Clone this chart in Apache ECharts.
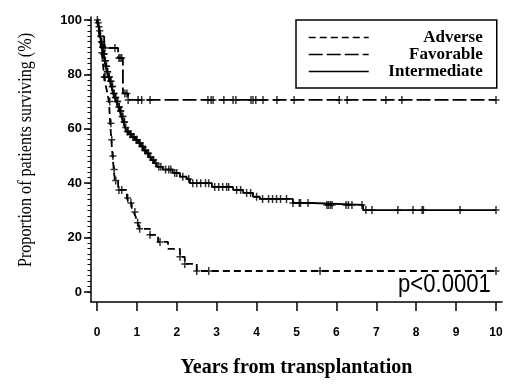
<!DOCTYPE html>
<html>
<head>
<meta charset="utf-8">
<script src="https://cdn.jsdelivr.net/npm/echarts@6/dist/echarts.min.js"></script>
<style>
	html,body{margin:0;padding:0;background:#fff;}
	#chart{width:520px;height:384px;}
</style>
</head>
<body>
<div id="chart"></div>
<script>
// Kaplan-Meier steps (years, % surviving)
var adverseTime = [0, 0.03, 0.06, 0.09, 0.12, 0.15, 0.18, 0.22, 0.26, 0.3, 0.33, 0.36, 0.39, 0.42, 0.45, 0.53, 0.75, 0.8, 0.87, 0.92, 0.97, 1.02, 1.07, 1.33, 1.53, 1.78, 2.08, 2.2, 2.5, 10];
var adverseSurv = [100, 97, 94, 91, 88, 84, 79, 76, 73, 70, 62, 56, 50, 45, 41, 37.5, 34.5, 32.7, 30.9, 29.4, 27.6, 25.4, 23.2, 21, 18.4, 15.8, 12.9, 10.3, 7.7, 7.7];
var adverseCensor = [0.12, 0.18, 0.2, 0.32, 0.35, 0.37, 0.4, 0.43, 0.47, 0.55, 0.62, 0.77, 0.85, 0.95, 1.02, 1.07, 1.33, 1.58, 2.08, 2.2, 2.5, 2.8, 5.59, 10];

var favorableTime = [0, 0.05, 0.1, 0.18, 0.53, 0.65, 0.78, 10];
var favorableSurv = [100, 97, 94, 89.7, 86, 73, 70.6, 70.6];
var favorableCensor = [0.2, 0.45, 0.55, 0.58, 0.62, 0.7, 0.75, 0.78, 1.03, 1.12, 1.33, 2.78, 2.86, 2.91, 3.18, 3.41, 3.48, 3.86, 3.91, 3.98, 4.16, 4.51, 4.94, 6.07, 6.27, 7.24, 7.64, 10];

var intermediateTime = [0, 0.02, 0.04, 0.06, 0.08, 0.1, 0.13, 0.16, 0.19, 0.22, 0.25, 0.28, 0.32, 0.36, 0.4, 0.44, 0.48, 0.53, 0.57, 0.61, 0.66, 0.7, 0.74, 0.8, 0.87, 0.95, 1.03, 1.1, 1.17, 1.23, 1.3, 1.37, 1.43, 1.5, 1.65, 1.9, 2.08, 2.25, 2.33, 2.88, 3.41, 3.66, 3.91, 4.08, 4.91, 5.39, 6.67, 10];
var intermediateSurv = [100, 99, 97.5, 96, 94, 92, 90, 87.5, 85, 83, 81, 79, 77.5, 75.5, 73, 71.5, 70, 68, 66.5, 64.5, 62.5, 60.5, 59, 58, 57, 56, 54.8, 53.5, 52, 51, 49.5, 48.5, 47.4, 46, 45, 43.7, 42.4, 41.5, 40, 38.6, 37.5, 36.4, 35, 34.2, 32.7, 32, 30.1, 30.1];
var intermediateCensor = [0.01, 0.03, 0.05, 0.07, 0.09, 0.11, 0.12, 0.14, 0.15, 0.17, 0.18, 0.2, 0.21, 0.23, 0.24, 0.26, 0.27, 0.3, 0.31, 0.34, 0.35, 0.38, 0.39, 0.42, 0.43, 0.46, 0.47, 0.5, 0.52, 0.55, 0.56, 0.59, 0.6, 0.63, 0.65, 0.68, 0.69, 0.72, 0.76, 0.78, 0.83, 0.85, 0.9, 0.93, 0.98, 1.0, 1.06, 1.08, 1.13, 1.15, 1.2, 1.22, 1.27, 1.29, 1.34, 1.4, 1.42, 1.47, 1.55, 1.6, 1.72, 1.8, 1.85, 1.95, 2.0, 2.15, 2.3, 2.4, 2.5, 2.6, 2.72, 2.8, 2.95, 3.05, 3.15, 3.25, 3.3, 3.5, 3.6, 3.75, 3.85, 4.0, 4.15, 4.3, 4.4, 4.5, 4.6, 4.75, 4.91, 5.07, 5.1, 5.29, 5.76, 5.8, 5.85, 5.89, 6.24, 6.3, 6.39, 6.64, 6.74, 6.89, 7.54, 7.92, 8.15, 8.18, 9.1, 10];

var xTicks = [0, 1, 2, 3, 4, 5, 6, 7, 8, 9, 10];
var yTicks = [0, 20, 40, 60, 80, 100];
var yMinorTicks = [0, 2, 4, 6, 8, 10, 12, 14, 16, 18, 20, 22, 24, 26, 28, 30, 32, 34, 36, 38, 40, 42, 44, 46, 48, 50, 52, 54, 56, 58, 60, 62, 64, 66, 68, 70, 72, 74, 76, 78, 80, 82, 84, 86, 88, 90, 92, 94, 96, 98, 100];

// "+" censoring mark
var plusPath = 'path://M2.75,0h1.5v8h-1.5zM0,3.25h7v1.5h-7z';

function pairs(times, vals){
	return times.map(function(t, i){ return [t, vals[i]]; });
}
// survival value at a censor time (last step at or before t)
function censorPoints(times, vals, cens){
	return cens.map(function(c){
		var v = vals[0];
		for(var i = 0; i < times.length; i++){
			if(times[i] <= c) v = vals[i];
		}
		return [c, v];
	});
}
function stepSeries(name, times, vals, dash){
	return {
		name: name,
		type: 'line',
		step: 'end',
		symbol: 'none',
		data: pairs(times, vals),
		lineStyle: { color: '#000', width: 1.8, type: dash },
		itemStyle: { color: '#000' },
		z: 3
	};
}
function censorSeries(times, vals, cens){
	return {
		type: 'scatter',
		symbol: plusPath,
		symbolSize: [7, 8],
		itemStyle: { color: '#000' },
		data: censorPoints(times, vals, cens),
		silent: true,
		z: 4
	};
}

function draw(){
	var myChart = echarts.init(document.getElementById('chart'));
	var serif = '"Liberation Serif", "DejaVu Serif", serif';
	var sans = '"Liberation Sans", Arial, sans-serif';
	myChart.setOption({
		animation: false,
		backgroundColor: '#fff',
		grid: { left: 91, top: 17, right: 18, bottom: 82, outerBoundsMode: 'none' },
		legend: {
			data: ['Adverse', 'Favorable', 'Intermediate'],
			orient: 'vertical',
			left: 296,
			top: 20,
			padding: [9, 14, 8, 12],
			itemWidth: 60,
			itemHeight: 10,
			itemGap: 0,
			borderColor: '#000',
			borderWidth: 1.5,
			itemStyle: { color: 'rgba(0,0,0,0)', borderWidth: 0, opacity: 0 },
			lineStyle: { width: 1.5 },
			formatter: function(name){ return '{a|' + name + '}'; },
			textStyle: {
				rich: {
					a: { width: 109, height: 16, lineHeight: 16, align: 'right', fontFamily: serif, fontWeight: 'bold', fontSize: 17, color: '#000' }
				}
			}
		},
		xAxis: {
			type: 'value',
			min: -0.15,
			max: 10.15,
			splitLine: { show: false },
			axisLine: { onZero: false, lineStyle: { color: '#000', width: 1.5 } },
			axisTick: { customValues: xTicks, length: 9, lineStyle: { color: '#000', width: 1.5 } },
			axisLabel: { customValues: xTicks, margin: 25, color: '#000', fontFamily: sans, fontWeight: 'bold', fontSize: 12 },
			name: 'Years from transplantation',
			nameLocation: 'middle',
			nameGap: 56,
			nameTextStyle: { fontFamily: serif, fontWeight: 'bold', fontSize: 20, color: '#000' }
		},
		yAxis: [{
			type: 'value',
			min: -3.7,
			max: 101.1,
			splitLine: { show: false },
			axisLine: { show: true, onZero: false, lineStyle: { color: '#000', width: 1.5 } },
			axisTick: { show: true, customValues: yTicks, length: 7, lineStyle: { color: '#000', width: 1.5 } },
			axisLabel: { customValues: yTicks, margin: 9, color: '#000', fontFamily: sans, fontWeight: 'bold', fontSize: 13 }
		}, {
			// minor ticks only
			type: 'value',
			position: 'left',
			min: -3.7,
			max: 101.1,
			splitLine: { show: false },
			axisLine: { show: false, onZero: false },
			axisTick: { show: true, customValues: yMinorTicks, length: 3.5, lineStyle: { color: '#000', width: 1 } },
			axisLabel: { show: false }
		}],
		graphic: [{
			type: 'text',
			x: 26,
			y: 150,
			rotation: Math.PI / 2,
			scaleX: 0.85,
			style: { text: 'Proportion of patients surviving (%)', font: '19px ' + serif, fill: '#000', align: 'center', verticalAlign: 'middle' }
		}, {
			type: 'text',
			x: 398,
			y: 285,
			scaleX: 0.85,
			style: { text: 'p<0.0001', font: '26px ' + sans, fill: '#000', align: 'left', verticalAlign: 'middle' }
		}],
		series: [
			stepSeries('Adverse', adverseTime, adverseSurv, [7, 4]),
			stepSeries('Favorable', favorableTime, favorableSurv, [14, 4]),
			stepSeries('Intermediate', intermediateTime, intermediateSurv, 'solid'),
			censorSeries(adverseTime, adverseSurv, adverseCensor),
			censorSeries(favorableTime, favorableSurv, favorableCensor),
			censorSeries(intermediateTime, intermediateSurv, intermediateCensor)
		]
	});
}
draw();
</script>
</body>
</html>
